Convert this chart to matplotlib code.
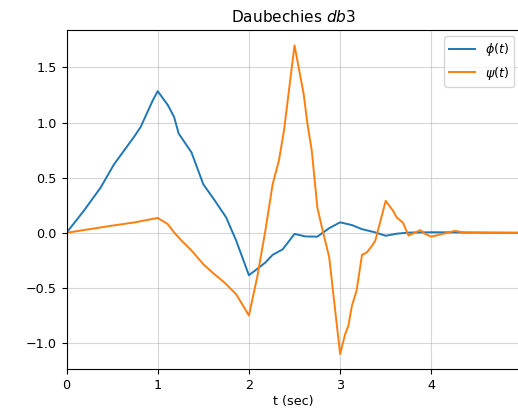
import matplotlib
matplotlib.use("Agg")
from matplotlib import pyplot as plt

# scaling function phi(t), sampled at its visible corners
tPhi = [0.0, 0.19, 0.374, 0.52, 0.74, 0.813, 0.945, 1.0, 1.11, 1.18, 1.23, 1.37,
        1.5, 1.62, 1.75, 1.86, 2.0, 2.11, 2.18, 2.26, 2.37, 2.5, 2.62, 2.75,
        2.88, 3.0, 3.13, 3.24, 3.38, 3.5, 3.62, 3.75, 4.0, 4.98]
phi = [0.0, 0.2, 0.41, 0.62, 0.87, 0.96, 1.2, 1.285, 1.16, 1.05, 0.9, 0.73,
       0.44, 0.30, 0.14, -0.07, -0.385, -0.315, -0.27, -0.2, -0.15, -0.01, -0.033, -0.035,
       0.042, 0.095, 0.07, 0.033, 0.005, -0.027, -0.008, 0.002, 0.005, 0.0]

# wavelet psi(t)
tPsi = [0.0, 0.5, 0.75, 1.0, 1.11, 1.18, 1.26, 1.37, 1.5, 1.6, 1.73, 1.86,
        2.0, 2.09, 2.18, 2.26, 2.33, 2.385, 2.5, 2.6, 2.64, 2.69, 2.75, 2.8,
        2.88, 3.0, 3.055, 3.09, 3.13, 3.18, 3.24, 3.29, 3.35, 3.385, 3.5, 3.58,
        3.62, 3.69, 3.75, 3.88, 3.93, 4.0, 4.26, 4.37, 4.98]
psi = [0.0, 0.065, 0.095, 0.135, 0.079, 0.003, -0.07, -0.16, -0.285, -0.36, -0.45, -0.557,
       -0.75, -0.406, 0.018, 0.44, 0.66, 0.93, 1.70, 1.26, 1.0, 0.74, 0.23, 0.05,
       -0.22, -1.10, -0.92, -0.845, -0.66, -0.527, -0.2, -0.18, -0.118, -0.073, 0.29, 0.2,
       0.14, 0.09, -0.025, 0.024, -0.01, -0.035, 0.018, 0.0, 0.0]

plt.rcParams['font.size'] = 9.2
plt.rcParams['lines.linewidth'] = 1.4

fig = plt.figure(figsize=(5.18, 4.09), dpi=100)
ax = fig.add_axes([0.1284, 0.0966, 0.8768, 0.8301])
ax.plot(tPhi, phi, label=r'$\phi(t)$')
ax.plot(tPsi, psi, label=r'$\psi(t)$')
ax.set_xlim(0, tPsi[-1])
ax.set_title(r'Daubechies $db3$')
ax.set_xlabel('t (sec)', labelpad=2)
ax.grid(True, alpha=0.5)
ax.legend(loc='upper right')
fig.savefig("out.png", dpi=100)
plt.close(fig)
